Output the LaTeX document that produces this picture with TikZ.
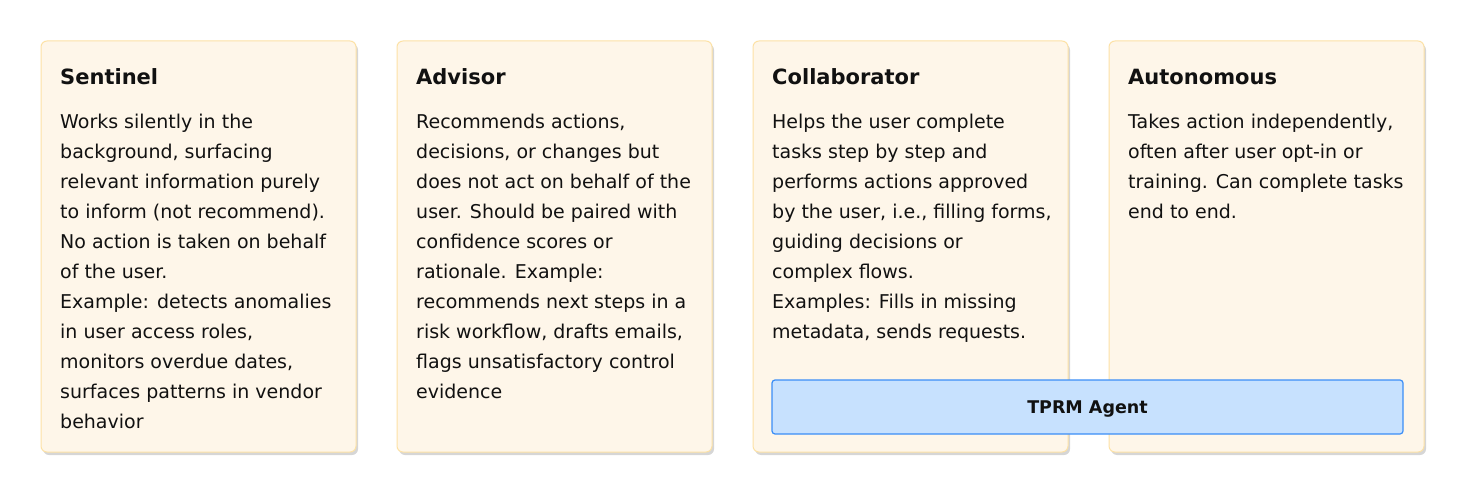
\documentclass[tikz,border=0pt]{standalone}
\usepackage{fontspec}
\setmainfont{DejaVu Sans}
\usetikzlibrary{shadows}
\definecolor{cardfill}{HTML}{FEF6E9}
\definecolor{carddraw}{HTML}{FDE2A6}
\definecolor{agentfill}{HTML}{C7E1FE}
\definecolor{agentdraw}{HTML}{3B8EF7}
\definecolor{ink}{HTML}{111111}
\tikzset{
  card/.style={draw=carddraw, line width=1pt, fill=cardfill, rounded corners=6pt,
    drop shadow={shadow xshift=2pt, shadow yshift=-3pt, opacity=0.16, fill=black}},
  cardtitle/.style={anchor=base west, inner sep=0pt, text=ink, font=\bfseries\fontsize{21}{26}\selectfont},
  cardbody/.style={anchor=base west, inner sep=0pt, text=ink, align=left, font=\fontsize{19}{30}\selectfont},
  agent/.style={draw=agentdraw, line width=1.2pt, fill=agentfill, rounded corners=3pt},
  agenttext/.style={anchor=base, inner sep=0pt, text=ink, font=\bfseries\fontsize{17.5}{22}\selectfont}
}
\begin{document}
\begin{tikzpicture}[x=1pt, y=-1pt]
\useasboundingbox (0,0) rectangle (1464,492);
\fill[white] (0,0) rectangle (1464,492);
% cards
\path[card] (41,41) rectangle (356,452);
\path[card] (397,41) rectangle (712,452);
\path[card] (753,41) rectangle (1068,452);
\path[card] (1109,41) rectangle (1424,452);
% titles
\node[cardtitle] (t1) at (60,85) {Sentinel};
\node[cardtitle] (t2) at (416,85) {Advisor};
\node[cardtitle] (t3) at (772,85) {Collaborator};
\node[cardtitle] (t4) at (1128,85) {Autonomous};
% bodies (anchor at baseline of last line; first baseline at 128, step 30)
\node[cardbody] (b1) at (60,428) {Works silently in the\\
background, surfacing\\
relevant information purely\\
to inform (not recommend).\\
No action is taken on behalf\\
of the user.\\
Example: detects anomalies\\
in user access roles,\\
monitors overdue dates,\\
surfaces patterns in vendor\\
behavior};
\node[cardbody] (b2) at (416,398) {Recommends actions,\\
decisions, or changes but\\
does not act on behalf of the\\
user. Should be paired with\\
confidence scores or\\
rationale. Example:\\
recommends next steps in a\\
risk workflow, drafts emails,\\
flags unsatisfactory control\\
evidence};
\node[cardbody] (b3) at (772,338) {Helps the user complete\\
tasks step by step and\\
performs actions approved\\
by the user, i.e., filling forms,\\
guiding decisions or\\
complex flows.\\
Examples: Fills in missing\\
metadata, sends requests.};
\node[cardbody] (b4) at (1128,218) {Takes action independently,\\
often after user opt-in or\\
training. Can complete tasks\\
end to end.};
% agent bar
\path[agent] (772,380) rectangle (1403,434);
\node[agenttext] (agent) at (1087.5,413) {TPRM Agent};
\end{tikzpicture}
\end{document}
